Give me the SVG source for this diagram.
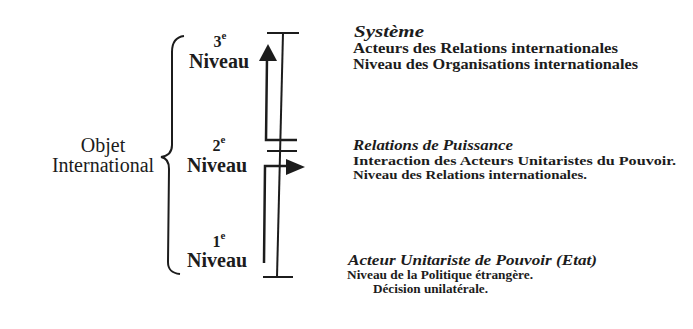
<svg xmlns="http://www.w3.org/2000/svg" width="693" height="329" viewBox="0 0 693 329">
<style>
  text { font-family: "Liberation Serif", "Times New Roman", "DejaVu Serif", serif; fill: #1c1c1c; }
  .lbl { font-size: 20px; }
  .niv { font-size: 20px; font-weight: bold; text-anchor: middle; }
  .num { font-size: 16px; font-weight: bold; text-anchor: middle; }
  .sup { font-size: 11px; }
  .head { font-weight: bold; font-style: italic; }
  .body { font-weight: bold; }
  .ln { stroke: #1c1c1c; stroke-width: 2; fill: none; }
  .arr { stroke: #1c1c1c; stroke-width: 2.5; fill: none; }
  .head-fill { fill: #1c1c1c; }
</style>
<rect x="0" y="0" width="693" height="329" fill="#ffffff"/>

<g id="objet">
  <text class="lbl" x="103" y="152" text-anchor="middle">Objet</text>
  <text class="lbl" x="103" y="172" text-anchor="middle">International</text>
</g>

<g id="level3">
  <text class="num" x="220" y="47">3<tspan class="sup" dy="-8">e</tspan></text>
  <text class="niv" x="219" y="68">Niveau</text>
</g>
<g id="level2">
  <text class="num" x="219" y="151">2<tspan class="sup" dy="-8">e</tspan></text>
  <text class="niv" x="217" y="172">Niveau</text>
</g>
<g id="level1">
  <text class="num" x="219" y="247">1<tspan class="sup" dy="-8">e</tspan></text>
  <text class="niv" x="217" y="267">Niveau</text>
</g>

<g id="desc-systeme">
  <text class="head" x="354" y="37" font-size="17" textLength="70" lengthAdjust="spacingAndGlyphs">Système</text>
  <text class="body" x="353" y="53" font-size="14.5" textLength="265" lengthAdjust="spacingAndGlyphs">Acteurs des Relations internationales</text>
  <text class="body" x="353" y="69" font-size="14.5" textLength="285" lengthAdjust="spacingAndGlyphs">Niveau des Organisations internationales</text>
</g>

<g id="desc-puissance">
  <text class="head" x="353" y="150" font-size="14.5" textLength="160" lengthAdjust="spacingAndGlyphs">Relations de Puissance</text>
  <text class="body" x="353" y="164.5" font-size="12.8" textLength="323" lengthAdjust="spacingAndGlyphs">Interaction des Acteurs Unitaristes du Pouvoir.</text>
  <text class="body" x="353" y="178.5" font-size="12.8" textLength="234" lengthAdjust="spacingAndGlyphs">Niveau des Relations internationales.</text>
</g>

<g id="desc-acteur">
  <text class="head" x="348" y="265" font-size="14.5" textLength="249" lengthAdjust="spacingAndGlyphs">Acteur Unitariste de Pouvoir (Etat)</text>
  <text class="body" x="347" y="279" font-size="13.5" textLength="186" lengthAdjust="spacingAndGlyphs">Niveau de la Politique étrangère.</text>
  <text class="body" x="373" y="293" font-size="13.5" textLength="115" lengthAdjust="spacingAndGlyphs">Décision unilatérale.</text>
</g>

<g id="axis">
  <line class="ln" x1="283" y1="33" x2="277" y2="277"/>
  <line class="ln" x1="267" y1="33" x2="299" y2="33"/>
  <line class="ln" x1="263" y1="277" x2="293" y2="277"/>
  <line class="ln" x1="267" y1="151" x2="297" y2="151"/>
</g>

<g id="connectors">
  <path class="ln" d="M184,36 C176,37 172,42 172,52 L172,145 C172,152 168,156 161,157 C167,158 169,162 169,169 L168,262 C168,270 172,273 180,274"/>
  <polyline class="arr" points="297,140 266,140 267,58"/>
  <polygon class="head-fill" points="268,44 259,61 277,61"/>
  <polyline class="arr" points="264,263 265,166 288,166"/>
  <polygon class="head-fill" points="305,167 286,159 286,175"/>
</g>
</svg>
